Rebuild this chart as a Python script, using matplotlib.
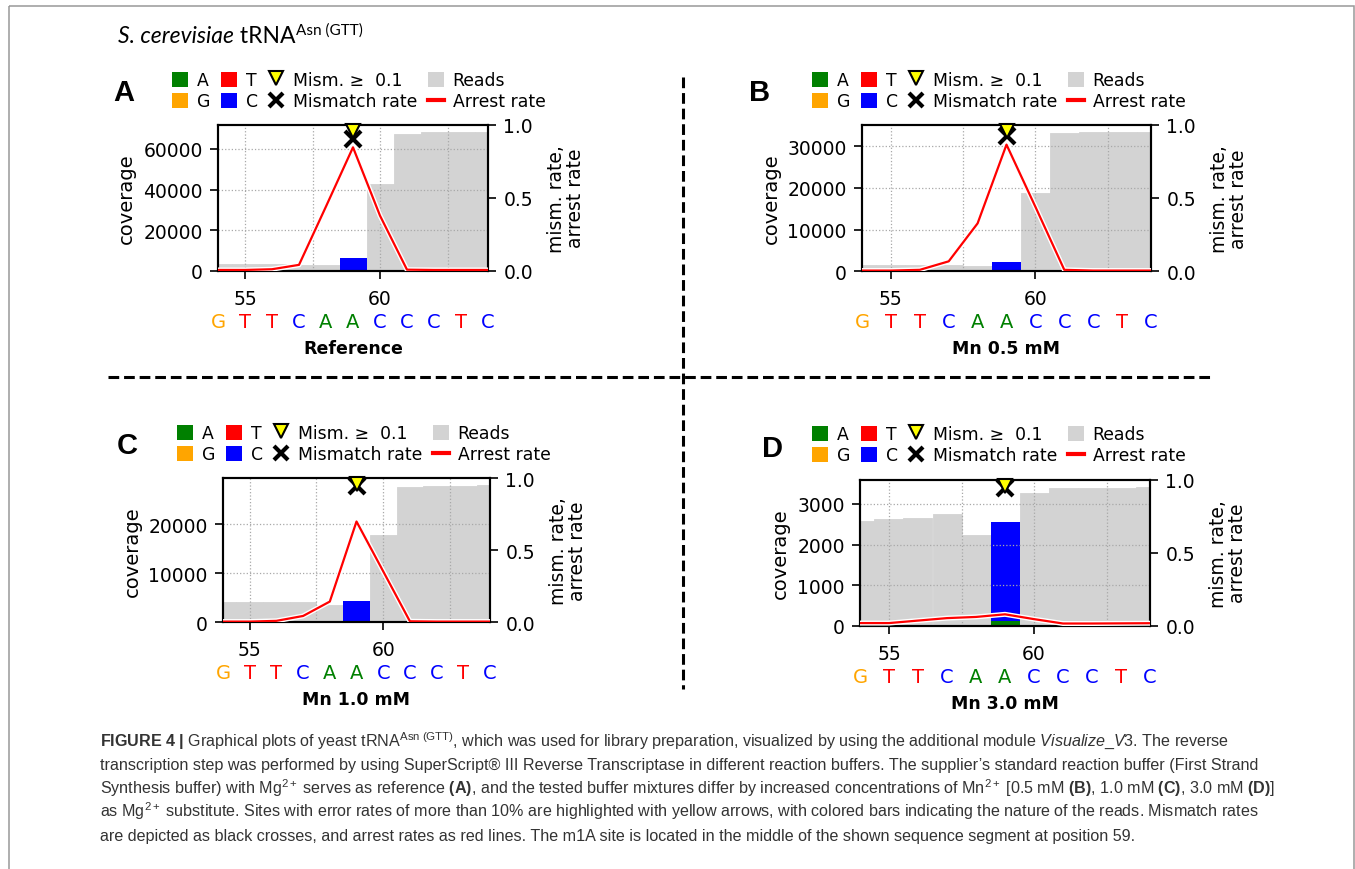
import matplotlib
matplotlib.use("Agg")
import matplotlib.pyplot as plt
import matplotlib.patheffects as pe
from matplotlib.patches import Patch, Rectangle
from matplotlib.lines import Line2D
from matplotlib.ticker import FixedLocator

plt.rcParams['font.family'] = ['DejaVu Sans']
plt.rcParams['mathtext.fontset'] = 'custom'
plt.rcParams['mathtext.rm'] = 'Liberation Sans'
plt.rcParams['mathtext.it'] = 'Liberation Sans:italic'
plt.rcParams['mathtext.bf'] = 'Liberation Sans:bold'

# data ---------------------------------------------------------------
positions = list(range(54, 65))
sequence = list("GTTCAACCCTC")
site_pos = 59
base_colors = {"A": "#008000", "G": "#FFA500", "T": "#FF0000", "C": "#0000FF"}

panel_letters = ["A", "B", "C", "D"]
conditions = ["Reference", "Mn 0.5 mM", "Mn 1.0 mM", "Mn 3.0 mM"]

reads_ref = [3100, 3100, 3200, 3000, 3000, 6100, 42600, 67600, 68200, 68550, 68550]
reads_mn05 = [1500, 1450, 1450, 1400, 1300, 2330, 18670, 33030, 33270, 33430, 33430]
reads_mn10 = [4200, 4150, 4150, 4100, 3525, 4270, 17760, 27590, 27860, 27860, 27930]
reads_mn30 = [2572, 2621, 2662, 2753, 2235, 2550, 3270, 3394, 3394, 3402, 3427]

# base counts at position 59 (A, G, T, C)
site_ref = {"A": 550, "G": 0, "T": 0, "C": 5550}
site_mn05 = {"A": 190, "G": 0, "T": 0, "C": 2140}
site_mn10 = {"A": 210, "G": 0, "T": 0, "C": 4060}
site_mn30 = {"A": 120, "G": 0, "T": 0, "C": 2430}

arrest_ref = [0.005, 0.005, 0.01, 0.04, 0.44, 0.845, 0.377, 0.007, 0.005, 0.005, 0.005]
arrest_mn05 = [0.005, 0.005, 0.01, 0.068, 0.327, 0.864, 0.44, 0.01, 0.005, 0.005, 0.005]
arrest_mn10 = [0.005, 0.005, 0.01, 0.044, 0.144, 0.70, 0.354, 0.007, 0.005, 0.005, 0.005]
arrest_mn30 = [0.018, 0.018, 0.035, 0.052, 0.06, 0.078, 0.045, 0.015, 0.015, 0.016, 0.017]

mism_site = [0.90, 0.92, 0.95, 0.945]

yticks_ref = [0, 20000, 40000, 60000]
yticks_mn05 = [0, 10000, 20000, 30000]
yticks_mn10 = [0, 10000, 20000]
yticks_mn30 = [0, 1000, 2000, 3000]

# layout (pixels) ----------------------------------------------------
W, H = 1355, 870
fig = plt.figure(figsize=(W / 100, H / 100), dpi=100)
ax0 = fig.add_axes([0, 0, 1, 1])
ax0.set_xlim(0, W)
ax0.set_ylim(H, 0)
ax0.axis('off')

boxes = [(218, 125.7, 488, 271.7), (862, 125.7, 1151, 272.3),
         (223, 479.3, 490, 623.3), (860, 480.7, 1150, 626.7)]
legend_xy = [(172, 72), (812, 72), (177, 425), (812, 426)]
letter_xy = [(124, 93), (760, 93), (127, 446), (772, 449)]

all_reads = [reads_ref, reads_mn05, reads_mn10, reads_mn30]
all_sites = [site_ref, site_mn05, site_mn10, site_mn30]
all_arrest = [arrest_ref, arrest_mn05, arrest_mn10, arrest_mn30]
all_yticks = [yticks_ref, yticks_mn05, yticks_mn10, yticks_mn30]

grid_kw = dict(ls=':', color='#a8a8a8', lw=0.9)

for i in range(4):
    l, t, r, b = boxes[i]
    ax = fig.add_axes([l / W, 1 - b / H, (r - l) / W, (b - t) / H])
    reads = all_reads[i]
    ax.bar(positions, reads, width=1, color='lightgray', edgecolor='lightgray',
           linewidth=0.6, zorder=1)
    bottom = 0
    for base in "AGTC":
        n = all_sites[i][base]
        if n:
            ax.bar(site_pos, n, bottom=bottom, width=1, color=base_colors[base], zorder=2)
        bottom += n
    ax.set_xlim(54, 64)
    ax.set_ylim(0, max(reads) * 1.05)
    ax.set_yticks(all_yticks[i])
    ax.set_xticks([55, 60])
    ax.xaxis.set_minor_locator(FixedLocator([57.5, 62.5]))
    ax.tick_params(axis='x', which='minor', length=0)
    ax.tick_params(which='major', length=6, width=1.2, labelsize=13.5, pad=5)
    ax.tick_params(axis='x', pad=7)
    ax.set_axisbelow(False)
    ax.grid(True, which='both', axis='x', **grid_kw)
    ax.grid(True, which='major', axis='y', **grid_kw)
    for s in ax.spines.values():
        s.set_linewidth(1.5)
    ax.set_ylabel("coverage", fontsize=14, labelpad=5)

    ax2 = ax.twinx()
    ax2.plot(positions, all_arrest[i], color='red', lw=1.6, zorder=3,
             path_effects=[pe.Stroke(linewidth=3.6, foreground='white'), pe.Normal()])
    ax2.plot([site_pos], [mism_site[i]], marker='x', color='black', ms=12, mew=3,
             ls='None', zorder=4)
    ax2.plot([site_pos], [0.96], marker='v', mfc='yellow', mec='black', ms=10, mew=1.5,
             ls='None', zorder=5, clip_on=False)
    ax2.set_ylim(0, 1)
    ax2.set_yticks([0, 0.5, 1.0])
    ax2.set_yticklabels(["0.0", "0.5", "1.0"])
    ax2.tick_params(length=6, width=1.2, labelsize=13.5, pad=5)
    for s in ax2.spines.values():
        s.set_linewidth(1.5)
    ax2.set_ylabel("mism. rate,\narrest rate", fontsize=13.5, linespacing=1.0, labelpad=10)

    # reference sequence under the axis
    for pos, base in zip(positions, sequence):
        ax.annotate(base, xy=(pos, 0), xycoords=ax.get_xaxis_transform(),
                    xytext=(0, -36.5), textcoords='offset points', ha='center', va='center',
                    color=base_colors[base], fontsize=14, annotation_clip=False)
    ax.annotate(conditions[i], xy=(0.5, 0), xycoords='axes fraction',
                xytext=(0, -55.5), textcoords='offset points', ha='center', va='center',
                fontweight='bold', fontsize=12.5, annotation_clip=False)

    handles = [
        Patch(facecolor=base_colors["A"]), Patch(facecolor=base_colors["G"]),
        Patch(facecolor=base_colors["T"]), Patch(facecolor=base_colors["C"]),
        Line2D([], [], marker='v', mfc='yellow', mec='black', ms=10, mew=1.5, ls='None'),
        Line2D([], [], marker='x', color='black', ms=10, mew=3, ls='None'),
        Patch(facecolor='lightgray'),
        Line2D([], [], color='red', lw=3),
    ]
    labels = ["A", "G", "T", "C", "Mism. ≥  0.1", "Mismatch rate", "Reads", "Arrest rate"]
    ax.legend(handles, labels, ncol=4, loc='upper left', bbox_to_anchor=legend_xy[i],
              bbox_transform=ax0.transData, frameon=False, fontsize=12.4,
              handlelength=0.95, handleheight=0.95, handletextpad=0.5,
              columnspacing=0.6, labelspacing=0.2, borderpad=0, borderaxespad=0)

    ax0.text(letter_xy[i][0], letter_xy[i][1], panel_letters[i], fontsize=21,
             fontweight='bold', family='Liberation Sans', ha='center', va='center')

# separators and frame
dash = (0, (3.5, 1.6))
ax0.plot([683, 683], [78, 690], color='black', lw=2.2, ls=dash)
ax0.plot([108, 1210], [378, 378], color='black', lw=2.2, ls=dash)
ax0.add_patch(Rectangle((9, 7), 1345, 880, fill=False, edgecolor='#999999', lw=1.1))

# title
t1 = ax0.text(118, 43, "S. cerevisiae", fontstyle='italic', family='Lato', fontsize=16.5,
              va='baseline', ha='left')
t2 = ax0.annotate(" tRNA", xy=(1, 0), xycoords=t1, va='bottom', ha='left',
                  family='Lato', fontsize=16.5)
ax0.annotate("Asn (GTT)", xy=(1, 0), xycoords=t2, xytext=(0, 7), textcoords='offset points',
             va='bottom', ha='left', family='Lato', fontsize=11)

# caption
caption_lines = [
    r"$\mathbf{FIGURE\ 4\ |}$ Graphical plots of yeast tRNA$^{\mathrm{Asn\ (GTT)}}$, which was used for library preparation, visualized by using the additional module $\mathit{Visualize\_V3}$. The reverse",
    "transcription step was performed by using SuperScript® III Reverse Transcriptase in different reaction buffers. The supplier’s standard reaction buffer (First Strand",
    r"Synthesis buffer) with Mg$^{2+}$ serves as reference $\mathbf{(A)}$, and the tested buffer mixtures differ by increased concentrations of Mn$^{2+}$ [0.5 mM $\mathbf{(B)}$, 1.0 mM $\mathbf{(C)}$, 3.0 mM $\mathbf{(D)}$]",
    r"as Mg$^{2+}$ substitute. Sites with error rates of more than 10% are highlighted with yellow arrows, with colored bars indicating the nature of the reads. Mismatch rates",
    "are depicted as black crosses, and arrest rates as red lines. The m1A site is located in the middle of the shown sequence segment at position 59.",
]
caption_y = [746, 770, 794, 817, 841]
cap_fs = 10.5
cap_texts = [ax0.text(100, y, s, fontsize=cap_fs, color='#333333', family='Liberation Sans',
                      ha='left', va='baseline') for s, y in zip(caption_lines, caption_y)]
fig.canvas.draw()
w0 = cap_texts[0].get_window_extent().width
for ct in cap_texts:
    ct.set_fontsize(cap_fs * 1137 / w0)

fig.savefig("out.png", dpi=100)
